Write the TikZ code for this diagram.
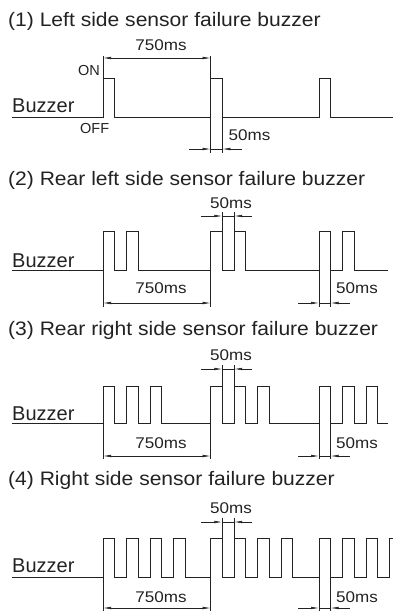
\documentclass[tikz,border=0pt]{standalone}
\usepackage{fontspec}
\setmainfont{Liberation Sans}
\newfontfamily\wfont[FakeStretch=1.1]{Liberation Sans}
\newfontfamily\tfont[FakeStretch=1.08]{Liberation Sans}
\usetikzlibrary{arrows.meta}
\definecolor{ink}{HTML}{222222}
\begin{document}
\begin{tikzpicture}[x=1pt,y=-1pt,
  sig/.style={line width=0.9pt, draw=ink, line join=miter},
  ext/.style={line width=0.6pt, draw=ink},
  dimarr/.style={line width=0.6pt, draw=ink, -{Latex[length=8pt,width=2.6pt]}},
  dimboth/.style={line width=0.6pt, draw=ink, {Latex[length=8pt,width=2.6pt]}-{Latex[length=8pt,width=2.6pt]}},
  ttl/.style={anchor=base west, inner sep=0pt, text=ink, font=\tfont\fontsize{19.5}{20}\selectfont},
  buz/.style={anchor=base west, inner sep=0pt, text=ink, font=\fontsize{20}{22}\selectfont},
  lab/.style={inner sep=0pt, text=ink, font=\wfont\fontsize{15.5}{16}\selectfont},
  onoff/.style={inner sep=0pt, text=ink, font=\fontsize{14.5}{15}\selectfont}]
\useasboundingbox (0,0) rectangle (393,611);
\clip (0,0) rectangle (393,611);
\def\w{11.6}

% ---------- (1) ----------
\node[ttl] (t1) at (8,26) {(1) Left side sensor failure buzzer};
\node[buz] (b1) at (12,112) {Buzzer};
\node[onoff, anchor=base east] (on) at (100,75) {ON};
\node[onoff, anchor=base west] (off) at (80,133) {OFF};
\draw[sig] (12,117) \foreach \x in {103,210.7,319} { -- (\x,117) -- (\x,78) -- (\x+\w,78) -- (\x+\w,117) } -- (393,117);
\coordinate (a1) at (103,58); \coordinate (a2) at (210.7,58);
\draw[ext] (103,55.5) -- (103,78);
\draw[ext] (210.7,55.5) -- (210.7,78);
\draw[dimboth] (a1) -- (a2);
\node[lab, anchor=base] (l1) at (161,50) {750ms};
\coordinate (c1) at (189,149); \coordinate (c2) at (210.7,149);
\coordinate (c3) at (222.3,149); \coordinate (c4) at (242,149);
\draw[ext] (210.7,117) -- (210.7,153);
\draw[ext] (222.3,117) -- (222.3,153);
\draw[dimarr] (c1) -- (c2);
\draw[dimarr] (c4) -- (c3);
\draw[ext] (c2) -- (c3);
\node[lab, anchor=base west] (l2) at (228.5,140) {50ms};

% ---------- (2) ----------
\node[ttl] (t2) at (8,185) {(2) Rear left side sensor failure buzzer};
\node[buz] (b2) at (12,267) {Buzzer};
\draw[sig] (12,270) \foreach \x in {103,126.5,210.7,234.2,319,342.5} { -- (\x,270) -- (\x,231.7) -- (\x+\w,231.7) -- (\x+\w,270) } -- (388,270);
\coordinate (d1) at (201,216); \coordinate (d2) at (222.3,216);
\coordinate (d3) at (234.2,216); \coordinate (d4) at (252,216);
\draw[ext] (222.3,212) -- (222.3,231.7);
\draw[ext] (234.2,212) -- (234.2,231.7);
\draw[dimarr] (d1) -- (d2);
\draw[dimarr] (d4) -- (d3);
\draw[ext] (d2) -- (d3);
\node[lab, anchor=base] (l3) at (231,208) {50ms};
\coordinate (e1) at (103,303); \coordinate (e2) at (210.7,303);
\draw[ext] (103,270) -- (103,307);
\draw[ext] (210.7,270) -- (210.7,307);
\draw[dimboth] (e1) -- (e2);
\node[lab, anchor=base] (l4) at (161,293) {750ms};
\coordinate (f1) at (298,303); \coordinate (f2) at (319,303);
\coordinate (f3) at (330.6,303); \coordinate (f4) at (350,303);
\draw[ext] (319,270) -- (319,307);
\draw[ext] (330.6,270) -- (330.6,307);
\draw[dimarr] (f1) -- (f2);
\draw[dimarr] (f4) -- (f3);
\draw[ext] (f2) -- (f3);
\node[lab, anchor=base west] (l5) at (336,293) {50ms};

% ---------- (3) ----------
\node[ttl] (t3) at (8,335) {(3) Rear right side sensor failure buzzer};
\node[buz] (b3) at (12,420) {Buzzer};
\draw[sig] (12,423) \foreach \x in {103,126.5,150,210.7,234.2,257.7,319,342.5,366} { -- (\x,423) -- (\x,386) -- (\x+\w,386) -- (\x+\w,423) } -- (388,423);
\coordinate (g1) at (201,369); \coordinate (g2) at (222.3,369);
\coordinate (g3) at (234.2,369); \coordinate (g4) at (252,369);
\draw[ext] (222.3,365) -- (222.3,386);
\draw[ext] (234.2,365) -- (234.2,386);
\draw[dimarr] (g1) -- (g2);
\draw[dimarr] (g4) -- (g3);
\draw[ext] (g2) -- (g3);
\node[lab, anchor=base] (l6) at (231,360) {50ms};
\coordinate (h1) at (103,456); \coordinate (h2) at (210.7,456);
\draw[ext] (103,423) -- (103,459);
\draw[ext] (210.7,423) -- (210.7,459);
\draw[dimboth] (h1) -- (h2);
\node[lab, anchor=base] (l7) at (161,448) {750ms};
\coordinate (i1) at (298,456); \coordinate (i2) at (319,456);
\coordinate (i3) at (330.6,456); \coordinate (i4) at (350,456);
\draw[ext] (319,423) -- (319,459);
\draw[ext] (330.6,423) -- (330.6,459);
\draw[dimarr] (i1) -- (i2);
\draw[dimarr] (i4) -- (i3);
\draw[ext] (i2) -- (i3);
\node[lab, anchor=base west] (l8) at (336,448) {50ms};

% ---------- (4) ----------
\node[ttl] (t4) at (8,485) {(4) Right side sensor failure buzzer};
\node[buz] (b4) at (12,572) {Buzzer};
\draw[sig] (12,577) \foreach \x in {103,126.5,150,173.5,210.7,234.2,257.7,281.2,319,342.5,366,389.5} { -- (\x,577) -- (\x,538) -- (\x+\w,538) -- (\x+\w,577) };
\coordinate (j1) at (201,522); \coordinate (j2) at (222.3,522);
\coordinate (j3) at (234.2,522); \coordinate (j4) at (252,522);
\draw[ext] (222.3,518) -- (222.3,538);
\draw[ext] (234.2,518) -- (234.2,538);
\draw[dimarr] (j1) -- (j2);
\draw[dimarr] (j4) -- (j3);
\draw[ext] (j2) -- (j3);
\node[lab, anchor=base] (l9) at (231,513) {50ms};
\coordinate (k1) at (103,608); \coordinate (k2) at (210.7,608);
\draw[ext] (103,577) -- (103,612);
\draw[ext] (210.7,577) -- (210.7,612);
\draw[dimboth] (k1) -- (k2);
\node[lab, anchor=base] (l10) at (161,602) {750ms};
\coordinate (m1) at (298,608); \coordinate (m2) at (319,608);
\coordinate (m3) at (330.6,608); \coordinate (m4) at (350,608);
\draw[ext] (319,577) -- (319,612);
\draw[ext] (330.6,577) -- (330.6,612);
\draw[dimarr] (m1) -- (m2);
\draw[dimarr] (m4) -- (m3);
\draw[ext] (m2) -- (m3);
\node[lab, anchor=base west] (l11) at (336,602) {50ms};
\end{tikzpicture}
\end{document}
